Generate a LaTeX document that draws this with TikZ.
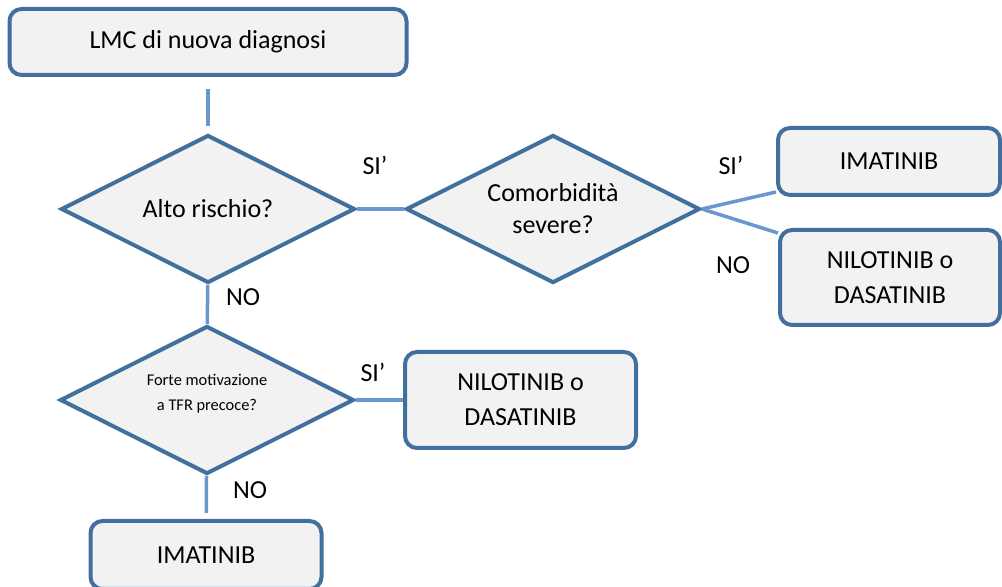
\documentclass[tikz,border=0pt]{standalone}
\usepackage{fontspec}
\setmainfont{Carlito}
\usepackage{xcolor}
\usepackage{tikz}
\usetikzlibrary{positioning, shapes, arrows, calc}

\definecolor{boxline}{RGB}{66,112,158}
\definecolor{linkline}{RGB}{104,152,204}
\definecolor{boxfill}{RGB}{242,242,242}

\begin{document}
\begin{tikzpicture}[x=0.5pt, y=-0.5pt,
    box/.style={draw=boxline, line width=2pt, fill=boxfill, rounded corners=6pt, align=center, inner sep=0pt, font=\fontsize{13}{17.5}\selectfont},
    ask/.style={draw=boxline, line width=2pt, fill=boxfill, diamond, aspect=2, align=center, inner sep=0pt, minimum width=147pt, minimum height=74pt, font=\fontsize{13}{16}\selectfont},
    link/.style={draw=linkline, line width=1.75pt},
    lbl/.style={font=\fontsize{13}{15}\selectfont}]
  \useasboundingbox (0,0) rectangle (1002,587);
  \clip (0,0) rectangle (1002,587);

  \node[box, minimum width=198.5pt, minimum height=33pt] (lmc) at (208,42) {LMC di nuova diagnosi};

  \node[ask] (alto) at (208,209) {Alto rischio?};
  \node[ask] (comorb) at (553,209) {Comorbidità\\severe?};
  \node[ask, font=\fontsize{8.2}{12.5}\selectfont] (forte) at (207,400) {Forte motivazione\\a TFR precoce?\\[-5pt]\mbox{}};

  \node[box, minimum width=111pt, minimum height=33.5pt] (imat1) at (889,161.5) {IMATINIB};
  \node[box, minimum width=110pt, minimum height=47.5pt] (nilo1) at (890,277.5) {NILOTINIB o\\DASATINIB};
  \node[box, minimum width=115.5pt, minimum height=48pt] (nilo2) at (520.5,400) {NILOTINIB o\\DASATINIB};
  \node[box, minimum width=115.5pt, minimum height=34pt] (imat2) at (206,555) {IMATINIB};

  \node[lbl] (si1) at (375,165) {SI’};
  \node[lbl] (no1) at (243,297) {NO};
  \node[lbl] (si2) at (731,165) {SI’};
  \node[lbl] (no2) at (733,265) {NO};
  \node[lbl] (si3) at (373,372) {SI’};
  \node[lbl] (no3) at (250,490) {NO};

  \draw[link, shorten <=6pt, shorten >=3.5pt] (lmc) -- (alto);
  \draw[link] (alto.east) -- (comorb.west);
  \draw[link] (comorb.east) -- ($(imat1.south west)+(0,-5)$);
  \draw[link] (comorb.east) -- ($(nilo1.north west)+(0,5)$);
  \draw[link] (alto) -- (forte);
  \draw[link] (forte.east) -- (nilo2.west);
  \draw[link, shorten >=3pt] (forte) -- (imat2);
\end{tikzpicture}
\end{document}
